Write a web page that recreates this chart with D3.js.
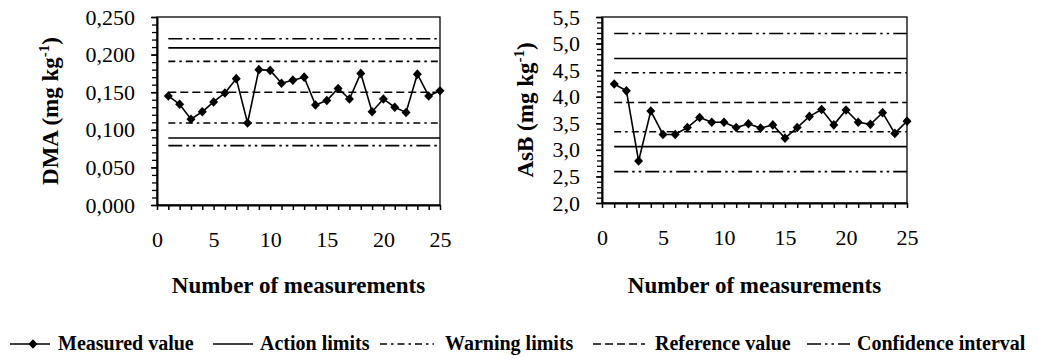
<!DOCTYPE html>
<html>
<head>
<meta charset="utf-8">
<script src="https://cdn.jsdelivr.net/npm/d3@7"></script>
<style>
  body { margin: 0; background: #fff; }
  svg text { font-family: "Liberation Serif", Tinos, Times !important; }
</style>
</head>
<body>
<svg id="chart" width="1038" height="359" style="display:block"></svg>
<script>
// Measurement number (x) shared by both charts
const measurements = [1, 2, 3, 4, 5, 6, 7, 8, 9, 10, 11, 12, 13, 14, 15, 16, 17, 18, 19, 20, 21, 22, 23, 24, 25];

// DMA (mg kg-1)
const dmaValues = [0.145, 0.134, 0.114, 0.124, 0.137, 0.149, 0.168, 0.109, 0.180, 0.179,
                   0.162, 0.166, 0.170, 0.133, 0.139, 0.155, 0.141, 0.175, 0.124, 0.141,
                   0.130, 0.123, 0.174, 0.145, 0.152];
const dmaReference = [0.150];
const dmaWarning = [0.109, 0.191];
const dmaAction = [0.089, 0.209];
const dmaConfidence = [0.079, 0.221];
const dmaTicks = [0, 0.05, 0.10, 0.15, 0.20, 0.25];

// AsB (mg kg-1)
const asbValues = [4.24, 4.11, 2.79, 3.73, 3.29, 3.29, 3.42, 3.61, 3.52, 3.52,
                   3.42, 3.49, 3.41, 3.47, 3.22, 3.42, 3.63, 3.76, 3.47, 3.75,
                   3.52, 3.48, 3.70, 3.31, 3.54];
const asbReference = [3.89];
const asbWarning = [3.34, 4.45];
const asbAction = [3.06, 4.72];
const asbConfidence = [2.59, 5.19];
const asbTicks = [2.0, 2.5, 3.0, 3.5, 4.0, 4.5, 5.0, 5.5];

const xTicks = [0, 5, 10, 15, 20, 25];

const legendLabels = ['Measured value', 'Action limits', 'Warning limits', 'Reference value', 'Confidence interval'];

// line styles for the horizontal limit lines
const dashes = {
    action: null,
    warning: '7,4,2.5,4',
    reference: '8,4',
    confidence: '14,4,2.5,4,2.5,4'
};

const FONT = 'Liberation Serif';
const svg = d3.select('#chart');
const comma = (fmt) => (v) => d3.format(fmt)(v).replace('.', ',');

function drawPanel(cfg) {
    const x = d3.scaleLinear().domain([0, 25]).range([cfg.left, cfg.right]);
    const y = d3.scaleLinear().domain(cfg.domain).range([cfg.bottom, cfg.top]);
    const g = svg.append('g');

    // frame (top and right border)
    g.append('rect')
        .attr('x', cfg.left).attr('y', cfg.top)
        .attr('width', cfg.right - cfg.left).attr('height', cfg.bottom - cfg.top)
        .attr('fill', 'none').attr('stroke', '#000').attr('stroke-width', 1.3);

    // limit lines
    const lines = [
        ...cfg.confidence.map(v => ({ v, type: 'confidence' })),
        ...cfg.action.map(v => ({ v, type: 'action' })),
        ...cfg.warning.map(v => ({ v, type: 'warning' })),
        ...cfg.reference.map(v => ({ v, type: 'reference' }))
    ];
    g.selectAll('.limit')
        .data(lines)
        .join('line')
        .attr('class', 'limit')
        .attr('x1', x(measurements[0]))
        .attr('x2', x(measurements[measurements.length - 1]))
        .attr('y1', d => y(d.v))
        .attr('y2', d => y(d.v))
        .attr('stroke', '#000')
        .attr('stroke-width', 1.6)
        .attr('stroke-dasharray', d => dashes[d.type]);

    // minor y ticks
    const minor = d3.range(cfg.domain[0], cfg.domain[1] + cfg.minorStep / 2, cfg.minorStep);
    g.append('g')
        .attr('transform', `translate(${cfg.left},0)`)
        .call(d3.axisLeft(y).tickValues(minor).tickSize(5).tickSizeOuter(0).tickFormat(''))
        .call(a => a.select('.domain').remove())
        .call(a => a.selectAll('text').remove())
        .selectAll('line').attr('stroke-width', 1.3);

    // major y axis
    g.append('g')
        .attr('transform', `translate(${cfg.left},0)`)
        .call(d3.axisLeft(y).tickValues(cfg.ticks).tickSize(6).tickSizeOuter(0)
            .tickPadding(16).tickFormat(comma(cfg.fmt)))
        .attr('font-family', FONT)
        .attr('font-size', 22)
        .call(a => a.select('.domain').attr('stroke-width', 2))
        .call(a => a.selectAll('line').attr('stroke-width', 1.5))
        .call(a => a.selectAll('text').attr('fill', '#000'));

    // x axis
    g.append('g')
        .attr('transform', `translate(0,${cfg.bottom})`)
        .call(d3.axisBottom(x).tickValues(d3.range(0, 26)).tickSize(5).tickSizeOuter(0)
            .tickPadding(21).tickFormat(d => xTicks.includes(d) ? d : ''))
        .attr('font-family', FONT)
        .attr('font-size', 22)
        .call(a => a.select('.domain').attr('stroke-width', 2))
        .call(a => a.selectAll('line').attr('stroke-width', 1.5))
        .call(a => a.selectAll('text').attr('fill', '#000'));

    // measured values
    const line = d3.line().x((d, i) => x(measurements[i])).y(d => y(d));
    g.append('path')
        .datum(cfg.values)
        .attr('d', line)
        .attr('fill', 'none')
        .attr('stroke', '#000')
        .attr('stroke-width', 1.6);

    g.selectAll('.pt')
        .data(cfg.values)
        .join('path')
        .attr('class', 'pt')
        .attr('transform', (d, i) => `translate(${x(measurements[i])},${y(d)})`)
        .attr('d', 'M0,-4.8L4.5,0L0,4.8L-4.5,0Z')
        .attr('fill', '#000');

    // axis titles
    g.append('text')
        .attr('x', (cfg.left + cfg.right) / 2)
        .attr('y', 293)
        .attr('text-anchor', 'middle')
        .attr('font-family', FONT)
        .attr('font-size', 23)
        .attr('font-weight', 'bold')
        .text('Number of measurements');

    const yt = g.append('text')
        .attr('transform', `translate(${cfg.titleX},${(cfg.top + cfg.bottom) / 2}) rotate(-90)`)
        .attr('text-anchor', 'middle')
        .attr('font-family', FONT)
        .attr('font-size', 23)
        .attr('font-weight', 'bold');
    yt.append('tspan').text(cfg.label + ' (mg kg');
    yt.append('tspan').attr('dy', -9).attr('font-size', 15).text('-1');
    yt.append('tspan').attr('dy', 9).text(')');
}

drawPanel({
    left: 157, right: 440, top: 17, bottom: 205,
    domain: [0, 0.25], ticks: dmaTicks, minorStep: 0.01, fmt: '.3f',
    values: dmaValues, reference: dmaReference, warning: dmaWarning,
    action: dmaAction, confidence: dmaConfidence,
    label: 'DMA', titleX: 58
});

drawPanel({
    left: 602, right: 907, top: 17, bottom: 203,
    domain: [2, 5.5], ticks: asbTicks, minorStep: 0.1, fmt: '.1f',
    values: asbValues, reference: asbReference, warning: asbWarning,
    action: asbAction, confidence: asbConfidence,
    label: 'AsB', titleX: 533
});

// legend
const legendLayout = [
    { type: 'measured', x1: 10, x2: 50, tx: 58 },
    { type: 'action', x1: 213, x2: 253, tx: 260 },
    { type: 'warning', x1: 380, x2: 434, tx: 445 },
    { type: 'reference', x1: 593, x2: 645, tx: 655 },
    { type: 'confidence', x1: 807, x2: 850, tx: 857 }
];
const legendY = 344;
const legend = svg.append('g');
legendLayout.forEach((item, i) => {
    legend.append('line')
        .attr('x1', item.x1).attr('x2', item.x2)
        .attr('y1', legendY).attr('y2', legendY)
        .attr('stroke', '#000').attr('stroke-width', 1.6)
        .attr('stroke-dasharray', item.type === 'measured' ? null : dashes[item.type]);
    if (item.type === 'measured') {
        legend.append('path')
            .attr('transform', `translate(${(item.x1 + item.x2) / 2 + 3},${legendY})`)
            .attr('d', 'M0,-4.8L4.5,0L0,4.8L-4.5,0Z')
            .attr('fill', '#000');
    }
    legend.append('text')
        .attr('x', item.tx).attr('y', legendY + 6)
        .attr('font-family', FONT)
        .attr('font-size', 20)
        .attr('font-weight', 'bold')
        .text(legendLabels[i]);
});
</script>
</body>
</html>
